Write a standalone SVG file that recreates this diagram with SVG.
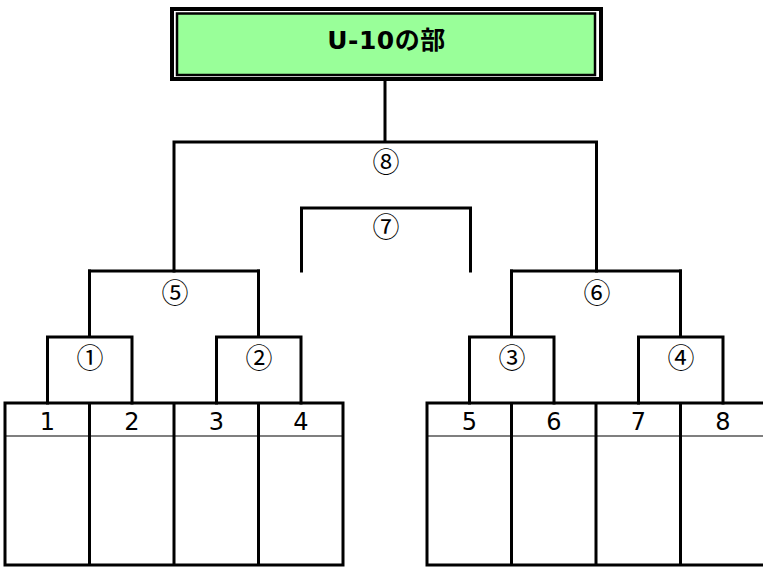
<svg xmlns="http://www.w3.org/2000/svg" width="763" height="567" viewBox="0 0 763 567">
<style>
.ln{fill:none;stroke:#000;stroke-width:3;stroke-linecap:square}
.num{font-family:"DejaVu Sans","Noto Sans CJK JP",sans-serif;font-size:24px;fill:#000;text-anchor:middle}
.circ{font-family:"Noto Sans CJK JP","DejaVu Sans",sans-serif;font-size:27px;fill:#000;text-anchor:middle}
.title{font-family:"DejaVu Sans","Noto Sans CJK JP",sans-serif;font-size:25px;font-weight:bold;fill:#000;text-anchor:middle;letter-spacing:0.5px}
</style>
<rect width="763" height="567" fill="#fff"/>
<g id="title">
<rect x="172" y="9" width="429" height="70" fill="#fff" stroke="#000" stroke-width="4"/>
<rect x="177" y="13.5" width="418" height="61.5" fill="#99FF99" stroke="#000" stroke-width="2.5"/>
<text class="title" x="386.5" y="49">U-10の部</text>
</g>
<g id="connectors">
<path class="ln" d="M385,80 V142 M174,271 V142 H596.5 V271"/>
<path class="ln" d="M301.5,271 V208 H470.5 V271"/>
<path class="ln" d="M47.5,403 V337 H132 V403 M89.5,337 V271"/>
<path class="ln" d="M216.5,403 V337 H301 V403 M258.5,337 V271"/>
<path class="ln" d="M89.5,271 H258.5"/>
<path class="ln" d="M469.5,403 V337 H554 V403 M511.5,337 V271"/>
<path class="ln" d="M638.5,403 V337 H723 V403 M680.5,337 V271"/>
<path class="ln" d="M511.5,271 H680.5"/>
</g>
<g id="labels">
<text class="circ" x="386" y="171.5">⑧</text>
<text class="circ" x="386" y="236.5">⑦</text>
<text class="circ" x="175" y="303">⑤</text>
<text class="circ" x="597" y="303">⑥</text>
<text class="circ" x="90" y="368">①</text>
<text class="circ" x="259" y="368">②</text>
<text class="circ" x="512" y="368">③</text>
<text class="circ" x="681" y="368">④</text>
</g>
<g id="table-left">
<path class="ln" d="M5,403 H343 V565 H5 Z M89.5,403 V565 M174,403 V565 M258.5,403 V565"/>
<path d="M5,436 H343" stroke="#000" stroke-width="1.2"/>
<text class="num" x="47.5" y="429.5">1</text>
<text class="num" x="132" y="429.5">2</text>
<text class="num" x="216.5" y="429.5">3</text>
<text class="num" x="301" y="429.5">4</text>
</g>
<g id="table-right">
<path class="ln" d="M770,403 H427 V565 H770 M511.5,403 V565 M596,403 V565 M680.5,403 V565"/>
<path d="M427,436 H763" stroke="#000" stroke-width="1.2"/>
<text class="num" x="469.5" y="429.5">5</text>
<text class="num" x="554" y="429.5">6</text>
<text class="num" x="638.5" y="429.5">7</text>
<text class="num" x="723" y="429.5">8</text>
</g>
</svg>
